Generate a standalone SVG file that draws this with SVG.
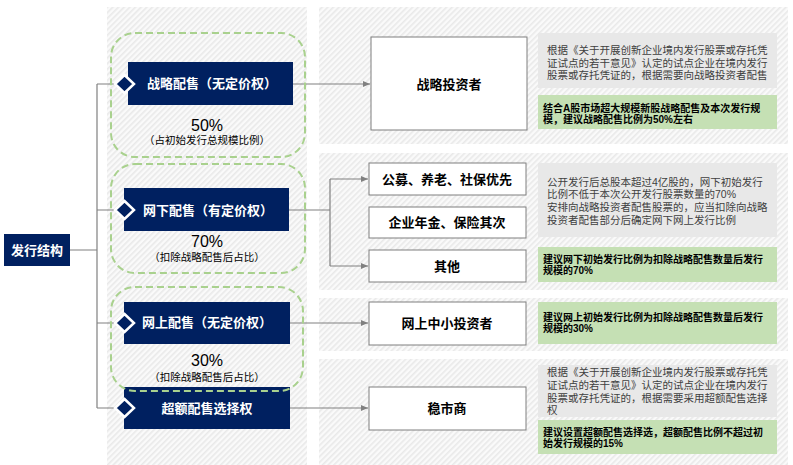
<svg xmlns="http://www.w3.org/2000/svg" width="793" height="465" viewBox="0 0 793 465">
<defs>
<pattern id="hatch" patternUnits="userSpaceOnUse" width="4" height="4" patternTransform="rotate(45)">
<rect width="4" height="4" fill="#FAFAFA"/>
<rect x="0" y="0" width="1.6" height="4" fill="#E9E9E9"/>
</pattern>
<marker id="arr" markerWidth="7" markerHeight="6" refX="7" refY="3" orient="auto" markerUnits="userSpaceOnUse">
<path d="M0,0 L7,3 L0,6 Z" fill="#808080"/>
</marker>
<style>
text{font-family:"Liberation Sans","Noto Sans CJK SC",sans-serif;}
.bg{fill:url(#hatch);}
.navy{fill:#002060;}
.nt{fill:#fff;font-size:13px;font-weight:bold;text-anchor:middle;}
.dash{fill:none;stroke:#A9D18E;stroke-width:2;stroke-dasharray:7,4;}
.dia{fill:#002060;stroke:#fff;stroke-width:2.5;}
.wbox{fill:#fff;stroke:#7F7F7F;stroke-width:1;}
.wt{fill:#000;font-size:13px;font-weight:bold;text-anchor:middle;}
.gray{fill:#E8E8E8;}
.green{fill:#C5E0B4;}
.gt{fill:#404040;font-size:10.5px;}
.grt{fill:#000;font-size:10px;font-weight:bold;}
.pct{fill:#000;font-size:16px;text-anchor:middle;}
.sub{fill:#000;font-size:10.5px;text-anchor:middle;}
.ln{fill:none;stroke:#808080;stroke-width:1.2;}
</style>
</defs>
<rect width="793" height="465" fill="#fff"/>
<g id="backgrounds">
<rect class="bg" x="107" y="7" width="200" height="458"/>
<rect class="bg" x="319" y="7" width="469" height="137"/>
<rect class="bg" x="319" y="153" width="469" height="137"/>
<rect class="bg" x="319" y="298" width="469" height="53"/>
<rect class="bg" x="319" y="359" width="469" height="106"/>
</g>
<g id="connectors">
<path class="ln" d="M70,250 H97 M97,84 V408 M97,84 H116 M97,210 H116 M97,323 H116 M97,408 H116"/>
<path class="ln" d="M293,84 H370" marker-end="url(#arr)"/>
<path class="ln" d="M289,210 H330 M330,179 V266"/>
<path class="ln" d="M330,179 H368" marker-end="url(#arr)"/>
<path class="ln" d="M330,266 H368" marker-end="url(#arr)"/>
<path class="ln" d="M290,323 H368" marker-end="url(#arr)"/>
<path class="ln" d="M290,408 H368" marker-end="url(#arr)"/>
</g>
<g id="root">
<rect class="navy" x="4" y="234" width="66" height="32"/>
<text class="nt" x="37" y="255">发行结构</text>
</g>
<g id="strategic">
<rect class="dash" x="111" y="33" width="194" height="124" rx="24"/>
<rect class="navy" x="128" y="62" width="165" height="43"/>
<text class="nt" x="212" y="88">战略配售（无定价权）</text>
<path class="dia" d="M124.5,75 L134,84 L124.5,93 L115,84 Z"/>
<text class="pct" x="207" y="131">50%</text>
<text class="sub" x="207" y="144">（占初始发行总规模比例）</text>
</g>
<g id="offline">
<rect class="dash" x="111" y="164" width="194" height="109" rx="24"/>
<rect class="navy" x="124" y="188" width="165" height="43"/>
<text class="nt" x="208" y="215">网下配售（有定价权）</text>
<path class="dia" d="M124.5,201 L134,210 L124.5,219 L115,210 Z"/>
<text class="pct" x="207" y="247">70%</text>
<text class="sub" x="207" y="261">（扣除战略配售后占比）</text>
</g>
<g id="overallot">
<rect class="navy" x="124" y="387" width="166" height="42"/>
<text class="nt" x="207" y="413">超额配售选择权</text>
<path class="dia" d="M124.5,399 L134,408 L124.5,417 L115,408 Z"/>
</g>
<g id="online">
<rect class="dash" x="111" y="287" width="192" height="104" rx="24"/>
<rect class="navy" x="124" y="302" width="166" height="42"/>
<text class="nt" x="207" y="327">网上配售（无定价权）</text>
<path class="dia" d="M124.5,314 L134,323 L124.5,332 L115,323 Z"/>
<text class="pct" x="207" y="366">30%</text>
<text class="sub" x="207" y="381">（扣除战略配售后占比）</text>
</g>
<g id="investor-strategic">
<rect class="wbox" x="371" y="37" width="156" height="93"/>
<text class="wt" x="449" y="89">战略投资者</text>
</g>
<g id="investor-public">
<rect class="wbox" x="369" y="163" width="157" height="32"/>
<text class="wt" x="447" y="184">公募、养老、社保优先</text>
</g>
<g id="investor-annuity">
<rect class="wbox" x="369" y="207" width="157" height="31"/>
<text class="wt" x="447" y="227">企业年金、保险其次</text>
</g>
<g id="investor-other">
<rect class="wbox" x="369" y="250" width="157" height="32"/>
<text class="wt" x="447" y="271">其他</text>
</g>
<g id="investor-online">
<rect class="wbox" x="369" y="302" width="157" height="43"/>
<text class="wt" x="447" y="328">网上中小投资者</text>
</g>
<g id="investor-stabilizer">
<rect class="wbox" x="369" y="387" width="157" height="43"/>
<text class="wt" x="447" y="413">稳市商</text>
</g>
<g id="notes1">
<rect class="gray" x="538" y="33" width="239" height="55"/>
<text class="gt" x="547" y="54">根据《关于开展创新企业境内发行股票或存托凭</text>
<text class="gt" x="547" y="66.5">证试点的若干意见》认定的试点企业在境内发行</text>
<text class="gt" x="547" y="79">股票或存托凭证的，根据需要向战略投资者配售</text>
<rect class="green" x="538" y="95" width="239" height="34"/>
<text class="grt" x="543" y="111.5">结合A股市场超大规模新股战略配售及本次发行规</text>
<text class="grt" x="543" y="122.5">模，建议战略配售比例为50%左右</text>
</g>
<g id="notes2">
<rect class="gray" x="538" y="163" width="239" height="74"/>
<text class="gt" x="547" y="186">公开发行后总股本超过4亿股的，网下初始发行</text>
<text class="gt" x="547" y="198">比例不低于本次公开发行股票数量的70%</text>
<text class="gt" x="547" y="211">安排向战略投资者配售股票的，应当扣除向战略</text>
<text class="gt" x="547" y="224">投资者配售部分后确定网下网上发行比例</text>
<rect class="green" x="538" y="247" width="239" height="35"/>
<text class="grt" x="543" y="262.5">建议网下初始发行比例为扣除战略配售数量后发行</text>
<text class="grt" x="543" y="273.5">规模的70%</text>
</g>
<g id="notes3">
<rect class="green" x="538" y="302" width="239" height="42"/>
<text class="grt" x="543" y="320.5">建议网上初始发行比例为扣除战略配售数量后发行</text>
<text class="grt" x="543" y="331.5">规模的30%</text>
</g>
<g id="notes4">
<rect class="gray" x="538" y="365" width="239" height="52"/>
<text class="gt" x="547" y="376">根据《关于开展创新企业境内发行股票或存托凭</text>
<text class="gt" x="547" y="389">证试点的若干意见》认定的试点企业在境内发行</text>
<text class="gt" x="547" y="402">股票或存托凭证的，根据需要采用超额配售选择</text>
<text class="gt" x="547" y="414">权</text>
<rect class="green" x="538" y="420" width="239" height="34"/>
<text class="grt" x="543" y="435.5">建议设置超额配售选择选，超额配售比例不超过初</text>
<text class="grt" x="543" y="446.5">始发行规模的15%</text>
</g>
</svg>
